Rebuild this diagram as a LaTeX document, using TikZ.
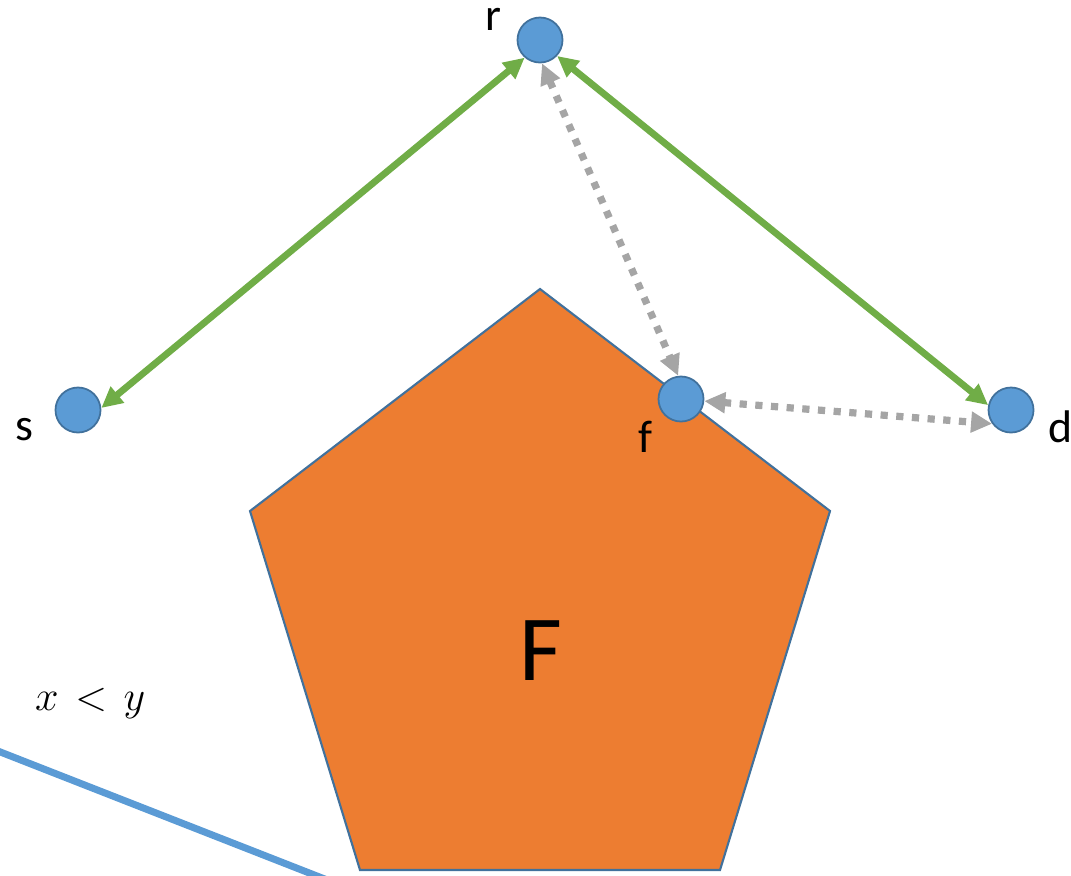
\documentclass[tikz,border=0pt]{standalone}
\usepackage{fontspec}
\setmainfont{Carlito}
\usetikzlibrary{arrows.meta}
\definecolor{nodefill}{HTML}{5B9BD5}
\definecolor{nodeedge}{HTML}{41719C}
\definecolor{pentfill}{HTML}{ED7D31}
\definecolor{grn}{HTML}{70AD47}
\definecolor{gry}{HTML}{A5A5A5}
\definecolor{bluln}{HTML}{5B9BD5}
\tikzset{
  vtx/.style={circle, fill=nodefill, draw=nodeedge, line width=0.5pt, minimum size=0.45cm, inner sep=0pt},
  lbl/.style={anchor=base, inner sep=0pt, font=\fontsize{13}{15}\selectfont},
  greenlink/.style={draw=grn, line width=0.068cm, {Triangle[length=0.21cm,width=0.2cm]}-{Triangle[length=0.21cm,width=0.2cm]}},
  graylink/.style={draw=gry, line width=0.072cm, dash pattern=on 0.072cm off 0.085cm, {Triangle[length=0.21cm,width=0.2cm]}-{Triangle[length=0.21cm,width=0.2cm]}},
}
\begin{document}
\begin{tikzpicture}[x=0.01cm, y=-0.01cm]
\useasboundingbox (0,0) rectangle (1071,875);
\clip (0,0) rectangle (1071,875);
% pentagon
\draw[fill=pentfill, draw=nodeedge, line width=0.6pt]
  (540,289) -- (830,511) -- (720,870) -- (360,870) -- (250,511) -- cycle;
\node[anchor=base, inner sep=0pt, font=\fontsize{26.5}{30}\selectfont] (F) at (541,680) {F};
% blue line
\coordinate (b1) at (-20,744);
\coordinate (b2) at (340,885);
\draw[bluln, line width=0.07cm] (b1) -- (b2);
% math text
\node[anchor=base east, inner sep=0pt, font=\fontsize{13}{15}\selectfont] (ineq) at (146,710) {$<\mkern9mu x\mkern2mu<\mkern2mu y$};
% vertices
\node[vtx] (r) at (540,40) {};
\node[vtx] (s) at (78,410) {};
\node[vtx] (f) at (681,399) {};
\node[vtx] (d) at (1011,410) {};
% labels
\node[lbl] (rl) at (493,30) {r};
\node[lbl] (sl) at (24,440) {s};
\node[lbl] (fl) at (645,452) {f};
\node[lbl] (dl) at (1060,442) {d};
% connectors
\draw[greenlink] (r.229) -- (s.5);
\draw[greenlink] (r.317) -- (d.168);
\draw[graylink] (r.275) -- (f.97);
\draw[graylink] (f.-5) -- (d.216);
\end{tikzpicture}
\end{document}
